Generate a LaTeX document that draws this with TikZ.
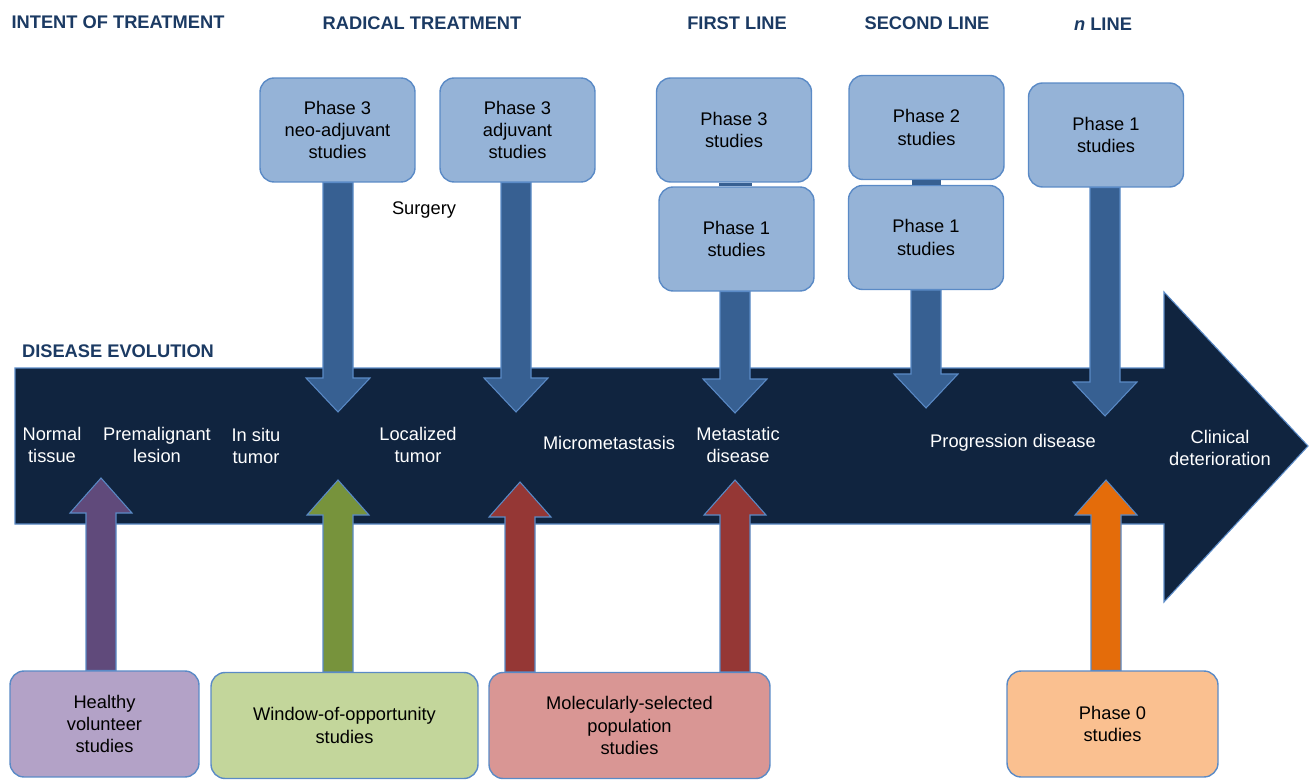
\documentclass[tikz,border=0pt]{standalone}
\usepackage{fontspec}
\setmainfont{Liberation Sans}
\usetikzlibrary{calc}
\definecolor{evNavy}{HTML}{10243F}
\definecolor{evEdge}{HTML}{5A8AC6}
\definecolor{evHead}{HTML}{1B3A63}
\definecolor{evBlue}{HTML}{376092}
\definecolor{evBox}{HTML}{95B3D7}
\definecolor{evPurple}{HTML}{604A7B}
\definecolor{evLilac}{HTML}{B3A2C7}
\definecolor{evGreen}{HTML}{77933C}
\definecolor{evLime}{HTML}{C3D69B}
\definecolor{evRed}{HTML}{953735}
\definecolor{evRose}{HTML}{D99694}
\definecolor{evOrange}{HTML}{E46C0A}
\definecolor{evPeach}{HTML}{FAC090}
\newcommand{\lab}{\fontsize{10.4}{12.6}\selectfont}
% block arrow from a box down to a tip
\newcommand{\arrdown}[3]{%
  \filldraw[#3] ($(#1.south -| #2)+(-15,0)$) -- ($(#2)+(-15,-34)$) -- ($(#2)+(-32,-34)$)
    -- (#2) -- ($(#2)+(32,-34)$) -- ($(#2)+(15,-34)$) -- ($(#1.south -| #2)+(15,0)$) -- cycle;}
% block arrow from a box up to a tip
\newcommand{\arrup}[3]{%
  \filldraw[#3] ($(#1.north -| #2)+(-15,0)$) -- ($(#2)+(-15,35)$) -- ($(#2)+(-31,35)$)
    -- (#2) -- ($(#2)+(31,35)$) -- ($(#2)+(15,35)$) -- ($(#1.north -| #2)+(15,0)$) -- cycle;}
\tikzset{
  hdr/.style  ={text=evHead,font=\lab\bfseries},
  phase/.style={rectangle,rounded corners=8pt,draw=evEdge,line width=0.8pt,fill=evBox,align=center,
                minimum width=3.1cm,minimum height=2.08cm,font=\lab},
  pop/.style  ={rectangle,rounded corners=8pt,draw=evEdge,line width=0.8pt,align=center,
                minimum height=2.12cm,font=\lab},
  stage/.style={text=white,align=center,font=\lab},
  darr/.style ={fill=evBlue,draw=evEdge,line width=0.6pt},
  uarr/.style ={fill=#1,draw=evEdge,line width=0.6pt},
}
\begin{document}
\begin{tikzpicture}[x=0.02cm,y=-0.02cm]
  \useasboundingbox (0,0) rectangle (1310,780);
  % ---- headers ----
  \node[hdr] (hIntent) at (118,22) {INTENT OF TREATMENT};
  \node[hdr] (hRadical) at (422,23) {RADICAL TREATMENT};
  \node[hdr] (hFirst) at (737,23) {FIRST LINE};
  \node[hdr] (hSecond) at (927,23) {SECOND LINE};
  \node[hdr] (hNth) at (1103,24) {\textit{n} LINE};
  \node[hdr] (hEvol) at (118,351) {DISEASE EVOLUTION};

  % ---- disease evolution arrow ----
  \filldraw[fill=evNavy,draw=evEdge,line width=0.6pt]
    (15,368) -- (1164,368) -- (1164,292) -- (1308,446) -- (1164,602) -- (1164,524) -- (15,524) -- cycle;

  % ---- trial boxes above ----
  \node[phase] (neo) at (337.5,130) {Phase 3\\neo-adjuvant\\studies};
  \node[phase] (adj) at (517.5,130) {Phase 3\\adjuvant\\studies};
  \node[phase] (fl3) at (734,130) {Phase 3\\studies};
  \node[phase] (fl1) at (736.5,239) {Phase 1\\studies};
  \node[phase] (sl2) at (926.5,127.5) {Phase 2\\studies};
  \node[phase] (sl1) at (926,237.5) {Phase 1\\studies};
  \node[phase] (nl1) at (1106,135) {Phase 1\\studies};
  \node[font=\lab] (surg) at (424,210) {Surgery};
  \fill[evBlue] ($(fl3.south)+(-15,0)$) rectangle ($(fl1.north)+(15,0)$);
  \fill[evBlue] ($(sl2.south)+(-15,0)$) rectangle ($(sl1.north)+(15,0)$);

  % ---- population boxes below ----
  \node[pop,fill=evLilac,minimum width=3.78cm] (healthy) at (104.5,724) {Healthy\\volunteer\\studies};
  \node[pop,fill=evLime,minimum width=5.34cm] (window) at (344.5,725.5) {Window-of-opportunity\\studies};
  \node[pop,fill=evRose,minimum width=5.62cm] (molec) at (629.5,725.5) {Molecularly-selected\\population\\studies};
  \node[pop,fill=evPeach,minimum width=4.22cm] (zero) at (1112.5,724) {Phase 0\\studies};

  % tips
  \coordinate (tNeo) at (338,412);
  \coordinate (tAdj) at (516,412);
  \coordinate (tFl) at (735,413);
  \coordinate (tSl) at (926,408);
  \coordinate (tNl) at (1105,416);
  \coordinate (tHv) at (101,478);
  \coordinate (tWin) at (338,480);
  \coordinate (tMol) at (520,482);
  \coordinate (tMet) at (735,480);
  \coordinate (tZero) at (1106,480);

  \arrdown{neo}{tNeo}{darr}
  \arrdown{adj}{tAdj}{darr}
  \arrdown{fl1}{tFl}{darr}
  \arrdown{sl1}{tSl}{darr}
  \arrdown{nl1}{tNl}{darr}
  \arrup{healthy}{tHv}{uarr=evPurple}
  \arrup{window}{tWin}{uarr=evGreen}
  \arrup{molec}{tMol}{uarr=evRed}
  \arrup{molec}{tMet}{uarr=evRed}
  \arrup{zero}{tZero}{uarr=evOrange}

  % ---- stages ----
  \node[stage] (normal) at (52,445) {Normal\\tissue};
  \node[stage] (premal) at (157,445) {Premalignant\\lesion};
  \node[stage] (insitu) at (256,446) {In situ\\tumor};
  \node[stage] (local) at (418,445) {Localized\\tumor};
  \node[stage] (micro) at (609,443) {Micrometastasis};
  \node[stage] (meta) at (738,445) {Metastatic\\disease};
  \node[stage] (prog) at (1013,443) {Progression disease};
  \node[stage] (clin) at (1220,448) {Clinical\\deterioration};
\end{tikzpicture}
\end{document}
